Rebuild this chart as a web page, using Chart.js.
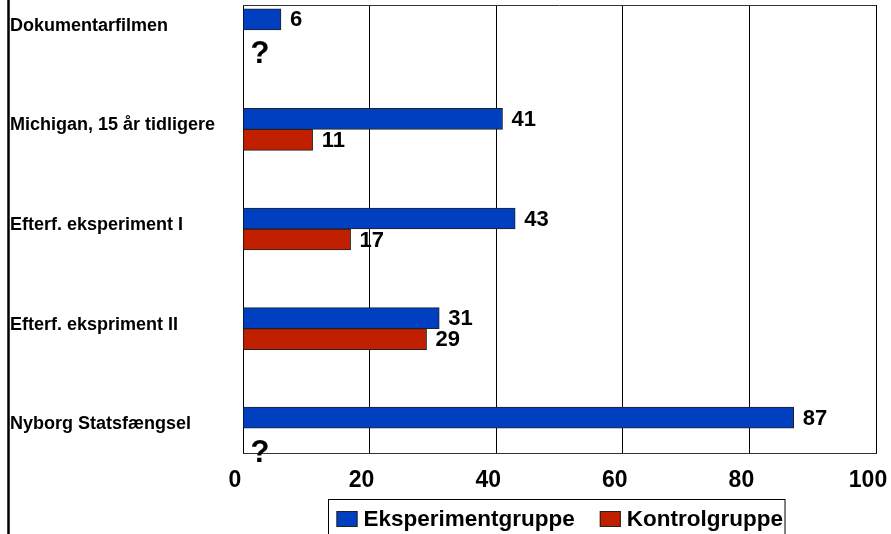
<!DOCTYPE html>
<html>
<head>
<meta charset="utf-8">
<script src="https://cdn.jsdelivr.net/npm/chart.js@4/dist/chart.umd.min.js"></script>
<style>
  html, body { margin: 0; padding: 0; background: #fff; }
  #wrap { width: 891px; height: 534px; }
</style>
</head>
<body>
<div id="wrap"><canvas id="chart" width="891" height="534"></canvas></div>
<script>
// 데이터
const categories = ['Dokumentarfilmen', 'Michigan, 15 år tidligere', 'Efterf. eksperiment I', 'Efterf. ekspriment II', 'Nyborg Statsfængsel'];
const eksperiment = [6, 41, 43, 31, 87];
const kontrol = [null, 11, 17, 29, null];
const xTicks = [0, 20, 40, 60, 80, 100];
const seriesNames = ['Eksperimentgruppe', 'Kontrolgruppe'];

const FONT = 'Arial, "Liberation Sans", sans-serif';
const BLUE = 'rgb(0,64,192)';
const RED = 'rgb(192,32,0)';

function toPoints(arr) {
    return arr.map((v, i) => ({ x: v, y: i }));
}

// 값 라벨, '?' 표시, 테두리, 범례
const extras = {
    id: 'extras',
    afterDatasetsDraw(chart) {
        const ctx = chart.ctx;
        ctx.save();
        ctx.fillStyle = '#000';
        ctx.font = 'bold 22px ' + FONT;
        ctx.textAlign = 'left';
        ctx.textBaseline = 'middle';
        chart.data.datasets.forEach((ds, di) => {
            const meta = chart.getDatasetMeta(di);
            meta.data.forEach((bar, i) => {
                const v = ds.data[i].x;
                if (v === null) return;
                ctx.fillText(String(v), bar.x + 9, bar.y + 1);
            });
        });
        ctx.restore();
    },
    afterDraw(chart) {
        const ctx = chart.ctx;
        const a = chart.chartArea;
        const xs = chart.scales.x;
        const ys = chart.scales.y;
        ctx.save();
        // 플롯 위쪽 테두리
        ctx.strokeStyle = '#333';
        ctx.lineWidth = 1;
        ctx.beginPath();
        ctx.moveTo(a.left, a.top + 0.5);
        ctx.lineTo(a.right, a.top + 0.5);
        ctx.stroke();
        // 왼쪽 바깥 선
        ctx.strokeStyle = '#000';
        ctx.lineWidth = 2.5;
        ctx.beginPath();
        ctx.moveTo(8.5, 0);
        ctx.lineTo(8.5, chart.height);
        ctx.stroke();

        // 통제군 데이터 없음
        ctx.fillStyle = '#000';
        ctx.font = 'bold 31px ' + FONT;
        ctx.textAlign = 'center';
        ctx.textBaseline = 'middle';
        kontrol.forEach((v, i) => {
            if (v !== null) return;
            ctx.fillText('?', xs.getPixelForValue(0) + 17, ys.getPixelForValue(i) + 25);
        });

        // 범례
        ctx.font = 'bold 22.5px ' + FONT;
        ctx.textBaseline = 'middle';
        ctx.textAlign = 'left';
        const colors = [BLUE, RED];
        const keyW = 21, keyH = 16, keyGap = 6, itemGap = 25;
        const widths = seriesNames.map(n => ctx.measureText(n).width);
        let total = 8 + 2;
        widths.forEach((w, i) => { total += keyW + keyGap + w + (i < widths.length - 1 ? itemGap : 0); });
        const boxLeft = Math.round((a.left + a.right) / 2 - total / 2) - 2.5;
        const boxTop = 499.5;
        ctx.fillStyle = '#fff';
        ctx.fillRect(boxLeft, boxTop, total, 50);
        ctx.strokeStyle = '#000';
        ctx.lineWidth = 1;
        ctx.strokeRect(boxLeft, boxTop, total, 50);
        let x = boxLeft + 8;
        const cy = 519;
        seriesNames.forEach((n, i) => {
            ctx.fillStyle = colors[i];
            ctx.fillRect(x, cy - keyH / 2, keyW, keyH);
            ctx.strokeStyle = '#222';
            ctx.strokeRect(x + 0.5, cy - keyH / 2 + 0.5, keyW - 1, keyH - 1);
            ctx.fillStyle = '#000';
            ctx.fillText(n, x + keyW + keyGap, cy + 1);
            x += keyW + keyGap + widths[i] + itemGap;
        });
        ctx.restore();
    }
};

const ctx = document.getElementById('chart').getContext('2d');
const chart = new Chart(ctx, {
    type: 'bar',
    data: {
        datasets: [
            {
                label: seriesNames[0],
                data: toPoints(eksperiment),
                backgroundColor: BLUE,
                borderColor: '#222',
                borderWidth: 1,
                barThickness: 21
            },
            {
                label: seriesNames[1],
                data: toPoints(kontrol),
                backgroundColor: RED,
                borderColor: '#222',
                borderWidth: 1,
                barThickness: 21
            }
        ]
    },
    options: {
        indexAxis: 'y',
        responsive: false,
        animation: false,
        layout: { padding: { left: 10, top: 5, right: 15, bottom: 0 } },
        scales: {
            x: {
                type: 'linear',
                min: 0,
                max: 100,
                afterBuildTicks: (s) => { s.ticks = xTicks.map(v => ({ value: v })); },
                afterFit: (s) => { s.height = 81; s.paddingLeft = 0; s.paddingRight = 0; },
                grid: { color: '#000', lineWidth: 1, drawTicks: false },
                border: { color: '#333' },
                ticks: {
                    color: '#000',
                    font: { family: FONT, size: 23, weight: 'bold' },
                    padding: 14,
                    labelOffset: -8,
                    maxRotation: 0
                }
            },
            y: {
                type: 'linear',
                reverse: true,
                offset: false,
                min: -0.25,
                max: 4.25,
                afterBuildTicks: (s) => { s.ticks = categories.map((c, i) => ({ value: i })); },
                afterFit: (s) => { s.width = 233; s.paddingTop = 0; s.paddingBottom = 0; },
                grid: { display: false, offset: false },
                border: { display: false },
                ticks: {
                    color: '#000',
                    font: { family: FONT, size: 18, weight: 'bold' },
                    crossAlign: 'far',
                    labelOffset: -4,
                    callback: (v) => categories[v]
                }
            }
        },
        plugins: {
            legend: { display: false },
            tooltip: { enabled: false }
        }
    },
    plugins: [extras]
});
</script>
</body>
</html>
